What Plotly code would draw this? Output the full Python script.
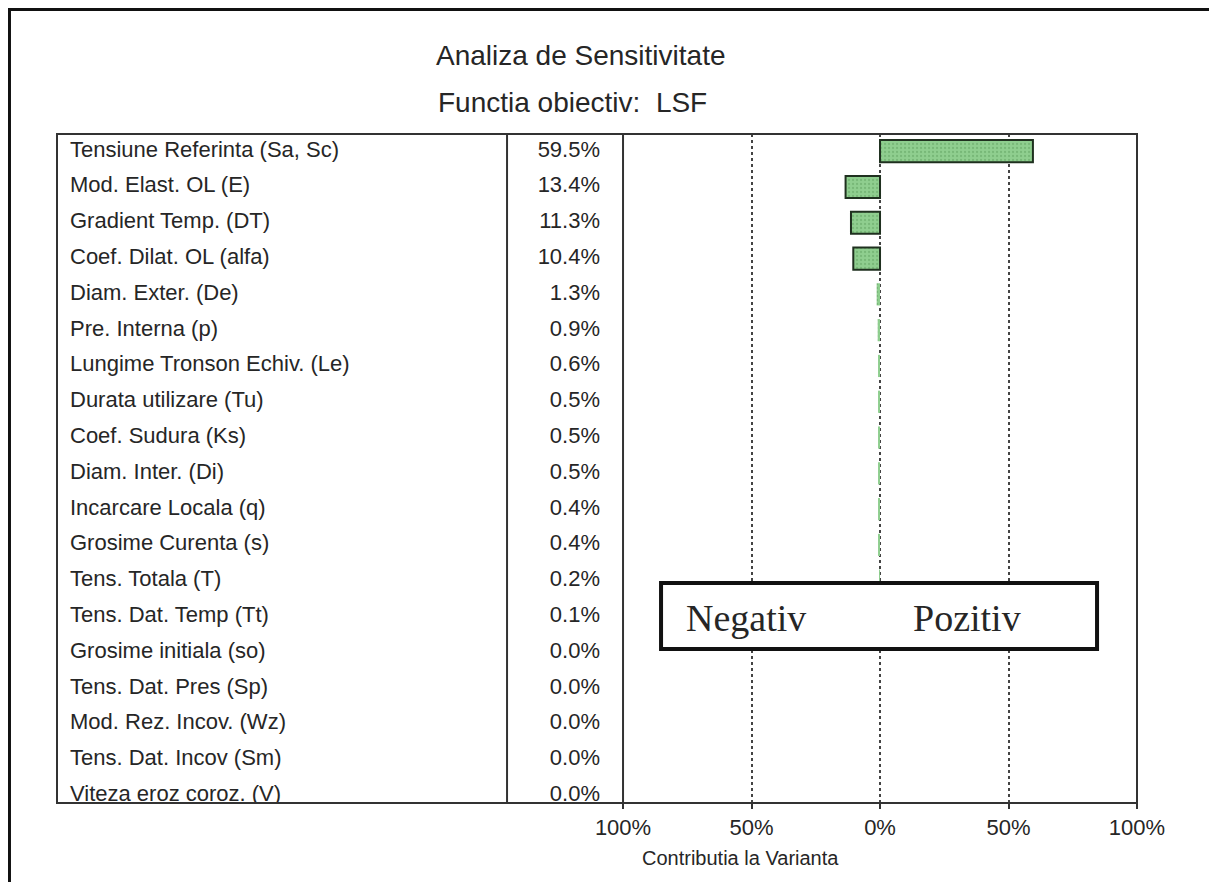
import plotly.graph_objects as go

# sensitivity analysis data (signed contribution to variance, %)
factori = [
    "Tensiune Referinta (Sa, Sc)",
    "Mod. Elast. OL (E)",
    "Gradient Temp. (DT)",
    "Coef. Dilat. OL (alfa)",
    "Diam. Exter. (De)",
    "Pre. Interna (p)",
    "Lungime Tronson Echiv. (Le)",
    "Durata utilizare (Tu)",
    "Coef. Sudura (Ks)",
    "Diam. Inter. (Di)",
    "Incarcare Locala (q)",
    "Grosime Curenta (s)",
    "Tens. Totala (T)",
    "Tens. Dat. Temp (Tt)",
    "Grosime initiala (so)",
    "Tens. Dat. Pres (Sp)",
    "Mod. Rez. Incov. (Wz)",
    "Tens. Dat. Incov (Sm)",
    "Viteza eroz coroz. (V)",
]
contributie = [59.5, -13.4, -11.3, -10.4, -1.3, -0.9, -0.6, -0.5, -0.5, -0.5,
               -0.4, -0.4, -0.2, -0.1, 0.0, 0.0, 0.0, 0.0, 0.0]
procente = ["59.5%", "13.4%", "11.3%", "10.4%", "1.3%", "0.9%", "0.6%", "0.5%",
            "0.5%", "0.5%", "0.4%", "0.4%", "0.2%", "0.1%", "0.0%", "0.0%",
            "0.0%", "0.0%", "0.0%"]
tick_vals = [-100, -50, 0, 50, 100]
tick_text = ["100%", "50%", "0%", "50%", "100%"]

SANS = "Liberation Sans, Arial, sans-serif"
SERIF = "Liberation Serif, Times New Roman, serif"
TXT = "#262626"

fig = go.Figure()

# tornado bars (no outline on the tiny ones, like the original)
fig.add_trace(
    go.Bar(
        x=contributie,
        y=factori,
        orientation="h",
        marker=dict(
            color="#8fce8f",
            line=dict(color="#1f301f",
                      width=[2 if abs(v) >= 2 else 0 for v in contributie]),
            pattern=dict(shape=".", fgcolor="#5f9f5f", bgcolor="#8fce8f",
                         size=4, solidity=0.25),
        ),
        width=0.62,
        hoverinfo="none",
        showlegend=False,
    )
)

# table columns: factor names and percentages
fig.add_trace(
    go.Scatter(
        x=[13] * len(factori),
        y=factori,
        xaxis="x2",
        mode="text",
        text=factori,
        textposition="middle right",
        textfont=dict(family=SANS, size=22, color=TXT),
        hoverinfo="none",
        showlegend=False,
    )
)
fig.add_trace(
    go.Scatter(
        x=[543] * len(factori),
        y=factori,
        xaxis="x2",
        mode="text",
        text=procente,
        textposition="middle left",
        textfont=dict(family=SANS, size=22, color=TXT),
        hoverinfo="none",
        showlegend=False,
    )
)

split = 0.5241  # start of the bar area in paper coords
shapes = [
    # table frame
    dict(type="rect", xref="paper", yref="paper", x0=0, x1=1, y0=0, y1=1,
         line=dict(color="#333", width=2)),
    dict(type="line", xref="paper", yref="paper", x0=0.4167, x1=0.4167, y0=0, y1=1,
         line=dict(color="#333", width=2)),
    dict(type="line", xref="paper", yref="paper", x0=split, x1=split, y0=0, y1=1,
         line=dict(color="#333", width=2)),
    # outer picture frame
    dict(type="rect", xref="paper", yref="paper", x0=-0.0440, x1=1.0685,
         y0=-0.2, y1=1.1860, line=dict(color="#111", width=3)),
    # Negativ / Pozitiv box
    dict(type="rect", xref="paper", yref="paper", x0=0.5593, x1=0.963,
         y0=0.2302, y1=0.3289, fillcolor="white",
         line=dict(color="#111", width=4)),
]


def note(text, x, y, family=SANS, size=22):
    return dict(text=text, x=x, y=y, xref="paper", yref="paper",
                xanchor="center", yanchor="middle", showarrow=False,
                font=dict(family=family, size=size, color=TXT))


annotations = [
    note("Analiza de Sensitivitate", 0.485, 1.1166, size=28),
    note("Functia obiectiv:  LSF", 0.4769, 1.0478, size=28),
    note("Contributia la Varianta", 0.633, -0.0822, size=20),
    note("Negativ", 0.638, 0.2765, family=SERIF, size=38),
    note("Pozitiv", 0.8426, 0.2765, family=SERIF, size=38),
]

# the page body has an 8px margin, so the figure is 8px smaller on each axis
fig.update_layout(
    width=1209,
    height=874,
    margin=dict(l=49, r=80, t=126, b=79),
    paper_bgcolor="white",
    plot_bgcolor="white",
    bargap=0.38,
    xaxis=dict(
        domain=[split, 1],
        range=[-100, 100],
        tickvals=tick_vals,
        ticktext=tick_text,
        showgrid=True,
        gridcolor="#444",
        griddash="dot",
        gridwidth=2,
        zeroline=False,
        showline=False,
        ticks="outside",
        ticklen=5,
        tickwidth=2,
        tickcolor="#333",
        tickfont=dict(family=SANS, size=22, color=TXT),
        fixedrange=True,
    ),
    xaxis2=dict(domain=[0, split], range=[0, 566], visible=False, anchor="y",
                fixedrange=True),
    yaxis=dict(
        type="category",
        categoryorder="array",
        categoryarray=factori,
        range=[18.21, -0.48],
        showticklabels=False,
        showgrid=False,
        zeroline=False,
        fixedrange=True,
    ),
    shapes=shapes,
    annotations=annotations,
)

fig.write_html("out.html")
